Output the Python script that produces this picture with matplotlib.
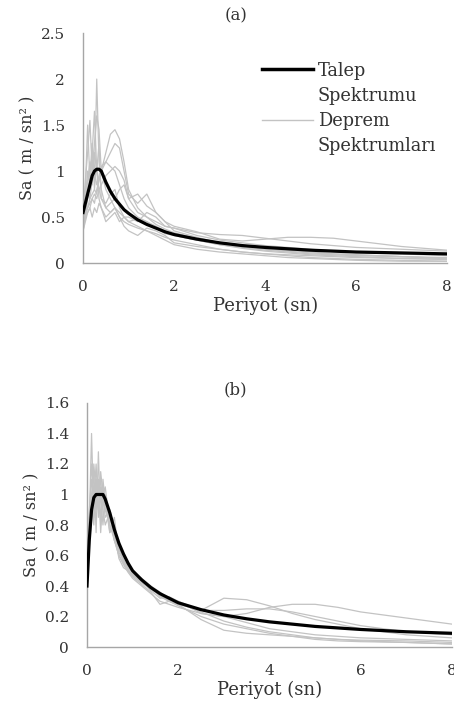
import matplotlib
matplotlib.use("Agg")
import matplotlib.pyplot as plt
from matplotlib.lines import Line2D

plt.rcParams['font.family'] = ['DejaVu Serif']

# period grid (sn)
periods = [0.0, 0.05, 0.1, 0.15, 0.2, 0.25, 0.3, 0.35, 0.4, 0.5, 0.6, 0.7, 0.8, 0.9, 1.0,
           1.2, 1.4, 1.6, 1.8, 2.0, 2.5, 3.0, 3.5, 4.0, 4.5, 5.0, 5.5, 6.0, 7.0, 8.0]

# (a) design spectrum and record spectra
talep_a = [0.55, 0.65, 0.75, 0.85, 0.95, 1.0, 1.02, 1.02, 1.0, 0.88, 0.78, 0.70, 0.64, 0.58, 0.54,
           0.47, 0.42, 0.38, 0.34, 0.31, 0.26, 0.22, 0.19, 0.17, 0.155, 0.14, 0.13, 0.12, 0.11, 0.10]
deprem_a = [
    [0.45, 0.7, 1.0, 0.8, 1.3, 0.9, 2.0, 1.1, 0.8, 0.6, 0.55, 0.6, 0.5, 0.45, 0.42,
     0.38, 0.35, 0.32, 0.28, 0.25, 0.2, 0.15, 0.12, 0.1, 0.09, 0.08, 0.07, 0.06, 0.05, 0.04],
    [0.6, 0.8, 1.5, 0.9, 1.2, 1.65, 1.0, 1.3, 0.7, 0.65, 0.75, 0.8, 0.6, 0.5, 0.45,
     0.48, 0.45, 0.38, 0.32, 0.3, 0.25, 0.2, 0.17, 0.14, 0.12, 0.1, 0.09, 0.08, 0.07, 0.05],
    [0.5, 0.9, 1.2, 1.55, 1.0, 1.3, 1.6, 1.45, 1.0, 0.8, 0.7, 0.6, 0.55, 0.5, 0.5,
     0.45, 0.55, 0.5, 0.4, 0.38, 0.3, 0.25, 0.22, 0.19, 0.17, 0.15, 0.13, 0.12, 0.1, 0.08],
    [0.4, 0.5, 0.6, 0.7, 0.75, 0.8, 0.75, 0.9, 1.0, 1.2, 1.4, 1.45, 1.35, 1.1, 0.8,
     0.6, 0.5, 0.45, 0.4, 0.38, 0.33, 0.31, 0.3, 0.27, 0.24, 0.21, 0.19, 0.17, 0.15, 0.13],
    [0.35, 0.45, 0.55, 0.6, 0.7, 0.65, 0.8, 0.9, 1.0, 1.1, 1.2, 1.3, 1.25, 1.0, 0.75,
     0.65, 0.75, 0.55, 0.45, 0.4, 0.34, 0.26, 0.24, 0.26, 0.28, 0.28, 0.27, 0.24, 0.18, 0.14],
    [0.5, 0.6, 0.8, 0.7, 0.9, 1.0, 0.85, 0.95, 1.05, 1.1, 1.05, 1.0, 0.85, 0.7, 0.6,
     0.5, 0.45, 0.4, 0.35, 0.3, 0.25, 0.2, 0.16, 0.13, 0.11, 0.09, 0.08, 0.07, 0.05, 0.04],
    [0.35, 0.5, 0.55, 0.6, 0.5, 0.6, 0.55, 0.65, 0.6, 0.5, 0.55, 0.6, 0.5, 0.4, 0.35,
     0.3, 0.38, 0.35, 0.3, 0.22, 0.18, 0.15, 0.12, 0.1, 0.08, 0.06, 0.05, 0.04, 0.03, 0.02],
    [0.45, 0.6, 0.9, 1.1, 0.85, 1.2, 1.0, 0.8, 0.7, 0.6, 0.65, 0.7, 0.8, 0.85, 0.7,
     0.75, 0.62, 0.55, 0.45, 0.35, 0.28, 0.22, 0.18, 0.15, 0.13, 0.11, 0.1, 0.09, 0.07, 0.06],
    [0.4, 0.5, 0.7, 0.9, 1.3, 0.8, 1.1, 0.7, 0.6, 0.45, 0.5, 0.55, 0.45, 0.5, 0.45,
     0.4, 0.35, 0.3, 0.25, 0.2, 0.15, 0.12, 0.1, 0.08, 0.06, 0.05, 0.04, 0.03, 0.02, 0.02],
    [0.4, 0.55, 0.6, 0.65, 0.7, 0.75, 0.7, 0.8, 0.85, 0.95, 1.0, 1.05, 1.0, 0.9, 0.7,
     0.55, 0.5, 0.42, 0.37, 0.33, 0.27, 0.22, 0.19, 0.16, 0.14, 0.12, 0.1, 0.09, 0.07, 0.05],
]

# (b) design spectrum and scaled record spectra
talep_b = [0.4, 0.7, 0.9, 0.98, 1.0, 1.0, 1.0, 1.0, 0.97, 0.88, 0.77, 0.68, 0.61, 0.55, 0.5,
           0.44, 0.39, 0.35, 0.32, 0.29, 0.245, 0.21, 0.185, 0.165, 0.15, 0.135, 0.125, 0.115, 0.1, 0.09]
deprem_b = [
    [0.38, 0.8, 1.4, 0.85, 1.1, 0.9, 1.05, 0.95, 0.9, 0.8, 0.7, 0.6, 0.55, 0.5, 0.47,
     0.42, 0.38, 0.34, 0.3, 0.28, 0.24, 0.32, 0.31, 0.27, 0.22, 0.18, 0.15, 0.12, 0.08, 0.06],
    [0.4, 0.75, 1.0, 1.15, 0.75, 1.28, 0.8, 1.1, 0.95, 0.75, 0.85, 0.6, 0.55, 0.5, 0.48,
     0.43, 0.37, 0.32, 0.33, 0.3, 0.22, 0.2, 0.22, 0.26, 0.28, 0.28, 0.26, 0.23, 0.19, 0.15],
    [0.42, 0.85, 0.9, 1.2, 1.0, 0.9, 1.15, 1.0, 1.05, 0.8, 0.72, 0.65, 0.56, 0.52, 0.49,
     0.45, 0.4, 0.36, 0.31, 0.3, 0.24, 0.24, 0.25, 0.25, 0.23, 0.2, 0.17, 0.14, 0.1, 0.08],
    [0.38, 0.7, 0.95, 0.8, 1.1, 1.05, 0.75, 1.0, 0.85, 0.9, 0.75, 0.58, 0.52, 0.5, 0.46,
     0.41, 0.36, 0.28, 0.3, 0.28, 0.18, 0.11, 0.09, 0.08, 0.07, 0.06, 0.05, 0.04, 0.03, 0.02],
    [0.4, 0.9, 1.1, 0.95, 1.2, 0.85, 1.0, 0.8, 1.0, 0.75, 0.8, 0.62, 0.57, 0.53, 0.5,
     0.44, 0.39, 0.33, 0.3, 0.27, 0.2, 0.15, 0.12, 0.09, 0.07, 0.05, 0.04, 0.035, 0.03, 0.02],
    [0.45, 0.8, 1.2, 1.0, 0.9, 1.1, 0.95, 1.05, 0.9, 0.85, 0.7, 0.6, 0.54, 0.49, 0.45,
     0.4, 0.35, 0.3, 0.28, 0.26, 0.22, 0.2, 0.16, 0.12, 0.1, 0.08, 0.07, 0.06, 0.05, 0.04],
    [0.37, 0.65, 0.85, 1.05, 0.95, 1.0, 1.1, 0.9, 0.8, 0.88, 0.7, 0.64, 0.58, 0.51, 0.47,
     0.43, 0.38, 0.34, 0.31, 0.29, 0.23, 0.17, 0.13, 0.1, 0.08, 0.06, 0.05, 0.045, 0.04, 0.03],
]

yticks_a = [0, 0.5, 1, 1.5, 2, 2.5]
yticks_b = [0, 0.2, 0.4, 0.6, 0.8, 1, 1.2, 1.4, 1.6]
xticks = [0, 2, 4, 6, 8]

gray = '#c3c3c3'
axis_col = '#a6a6a6'
txt = '#333333'

fig = plt.figure(figsize=(4.54, 7.11), dpi=100)
ax_a = fig.add_axes([0.183, 0.630, 0.802, 0.3235])
ax_b = fig.add_axes([0.1916, 0.090, 0.804, 0.3432])


def style(ax, yticks, ylim):
    ax.set_xlim(0, 8)
    ax.set_ylim(*ylim)
    ax.set_xticks(xticks)
    ax.set_xticklabels([str(t) for t in xticks])
    ax.set_yticks(yticks)
    ax.set_yticklabels(['{:g}'.format(t) for t in yticks])
    ax.tick_params(axis='y', length=0, labelsize=11, pad=13, colors=txt)
    ax.tick_params(axis='x', length=0, labelsize=11, pad=12, colors=txt)
    for s in ['top', 'right']:
        ax.spines[s].set_visible(False)
    for s in ['left', 'bottom']:
        ax.spines[s].set_color(axis_col)
        ax.spines[s].set_linewidth(1.0)
    ax.set_xlabel('Periyot (sn)', fontsize=13, color=txt, labelpad=2)
    ax.set_ylabel('Sa ( m / sn² )', fontsize=11.5, color=txt, labelpad=3)


for d in deprem_a:
    ax_a.plot(periods, d, color=gray, lw=0.9, zorder=2)
ax_a.plot(periods, talep_a, color='black', lw=2.3, zorder=3)
style(ax_a, yticks_a, (0, 2.5))

for d in deprem_b:
    ax_b.plot(periods, d, color=gray, lw=0.9, zorder=2)
ax_b.plot(periods, talep_b, color='black', lw=2.3, zorder=3)
style(ax_b, yticks_b, (0, 1.6))

fig.text(0.519, 0.978, '(a)', ha='center', va='center', fontsize=12, color=txt)
fig.text(0.519, 0.452, '(b)', ha='center', va='center', fontsize=12, color=txt)

blank = Line2D([], [], color='none')
handles = [Line2D([], [], color='black', lw=2.5), blank,
           Line2D([], [], color=gray, lw=1.0), blank]
labels = ['Talep', 'Spektrumu', 'Deprem', 'Spektrumları']
ax_a.legend(handles, labels, loc='upper left', bbox_to_anchor=(0.466, 0.915),
            frameon=False, fontsize=12.8, handlelength=2.9, handletextpad=0.25,
            labelspacing=0.4, borderpad=0.0, labelcolor=txt)

fig.savefig('out.png', dpi=100)
